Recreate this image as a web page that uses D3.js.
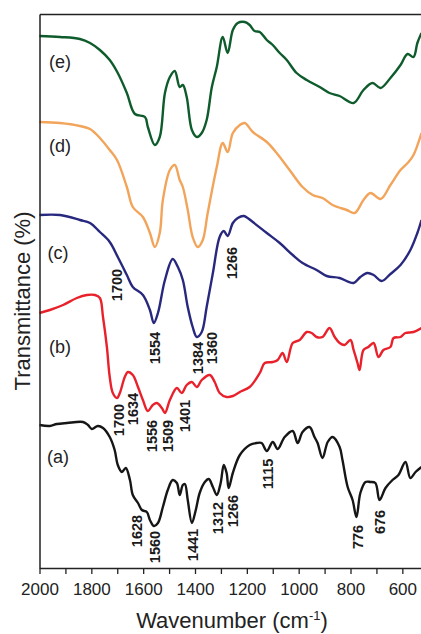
<!DOCTYPE html>
<html><head><meta charset="utf-8">
<script src="https://cdn.jsdelivr.net/npm/d3@7"></script>
<style>body{margin:0;background:#fff}svg{display:block}</style>
</head><body>
<script>
// wavenumber (cm-1) and transmittance (arbitrary offset units)
const waveE=[2000,1921,1844,1805,1767,1729,1698,1663,1632,1593,1582,1555,1536,1516,1497,1478,1459,1447,1432,1412,1393,1374,1355,1335,1316,1293,1274,1254,1235,1208,1189,1170,1150,1123,1100,1073,1046,1008,969,919,881,842,788,750,715,684,646,607,580,557,542,526];
const transE=[532,531,529,525,518,508,495,475,454,451,441,423,431,475,491,497,481,483,471,438,431,435,448,481,501,531,515,538,545,546,543,537,536,528,523,515,508,495,488,481,475,472,465,478,485,480,490,503,514,511,525,535];
const waveD=[2000,1921,1844,1805,1767,1729,1701,1663,1640,1601,1574,1555,1536,1524,1497,1478,1459,1447,1428,1409,1389,1370,1351,1316,1293,1274,1254,1227,1208,1177,1123,1085,1035,985,946,908,869,815,784,750,723,684,646,607,576,557,526];
const transD=[446,445,442,439,430,418,408,381,361,351,335,321,335,368,398,403,388,381,358,331,321,328,355,401,425,416,435,443,445,436,426,415,398,381,373,370,363,358,355,368,375,369,383,398,406,413,435];
const waveC=[2000,1921,1844,1805,1767,1729,1698,1663,1640,1601,1574,1559,1543,1516,1486,1466,1447,1428,1409,1393,1374,1355,1331,1305,1289,1274,1254,1235,1212,1177,1123,1073,1023,985,931,892,842,788,762,735,711,680,646,607,569,542,526];
const transC=[353,353,348,345,336,326,311,293,281,273,258,245,255,288,309,301,288,261,241,231,236,261,295,331,337,332,345,350,352,346,335,325,313,305,298,292,290,285,291,295,293,287,294,303,318,335,348];
const waveB=[2000,1960,1909,1856,1817,1786,1767,1755,1740,1729,1717,1701,1690,1671,1659,1640,1620,1601,1582,1563,1547,1528,1516,1497,1470,1451,1432,1412,1393,1374,1343,1324,1305,1278,1254,1227,1189,1150,1131,1100,1081,1062,1046,1023,996,969,950,931,908,881,861,842,823,800,788,773,765,750,731,711,692,673,646,634,607,588,557,526];
const transB=[255,258,263,270,273,273,270,251,221,191,175,170,175,191,196,193,181,168,157,163,165,160,155,168,180,175,183,186,181,188,193,186,175,171,172,176,181,195,205,206,208,215,206,225,228,236,235,231,231,240,231,225,223,228,218,205,198,218,221,225,211,218,221,230,231,235,236,240];
const waveA=[2000,1960,1933,1894,1832,1813,1798,1775,1755,1729,1710,1698,1682,1667,1651,1640,1620,1605,1586,1574,1559,1543,1524,1505,1486,1470,1459,1447,1439,1428,1412,1397,1382,1362,1347,1331,1316,1301,1289,1278,1270,1254,1227,1189,1162,1143,1123,1100,1081,1054,1023,1004,985,958,939,927,908,888,869,842,831,811,792,777,762,742,723,704,688,665,638,615,588,569,549,526];
const transA=[143,142,144,145,146,143,139,142,140,131,118,103,96,100,88,73,65,58,56,48,42,45,61,78,88,85,73,83,84,68,45,58,75,86,89,81,73,85,103,95,80,95,113,123,125,125,117,126,119,131,137,125,136,141,131,125,110,126,131,121,108,81,68,51,75,86,86,85,68,80,88,93,106,90,96,101];

const seriesNames=["a","b","c","d","e"];
const seriesColors=["#161616","#e8212b","#27287e","#f2a45a","#0e5b2c"];
const seriesLabelPos=[[1929,111],[1921,221],[1929,315],[1921,422],[1921,506]];

const peakText=["1700","1554","1384","1360","1266","1700","1634","1556","1509","1401","1628","1560","1441","1312","1266","1115","776","676"];
const peakWave=[1701,1555,1389,1335,1258,1694,1640,1567,1505,1439,1624,1555,1409,1312,1254,1120,773,688];
const peakTrans=[283,220,210,220,305,148,159,132,132,152,37,21,23,50,57,94,31,46];

const xTicks=[2000,1900,1800,1700,1600,1500,1400,1300,1200,1100,1000,900,800,700,600];

const W=421,H=634;
const svg=d3.select("body").append("svg").attr("width",W).attr("height",H);
const x=d3.scaleLinear().domain([2000,528]).range([39.5,421]);
const y=d3.scaleLinear().domain([0,554]).range([568,14]);

const data=[[waveA,transA],[waveB,transB],[waveC,transC],[waveD,transD],[waveE,transE]];
const line=d3.line().x(d=>x(d[0])).y(d=>y(d[1])).curve(d3.curveCatmullRom.alpha(0.5));

const g=svg.append("g");
data.forEach((s,i)=>{
  const pts=s[0].map((w,j)=>[w,s[1][j]]);
  g.append("path").datum(pts).attr("d",line).attr("fill","none")
   .attr("stroke",seriesColors[i]).attr("stroke-width",2.4).attr("stroke-linejoin","round");
});

// axes
const axColor="#222";
const xb=svg.append("g").attr("transform","translate(0,568)")
  .call(d3.axisBottom(x).tickValues(xTicks).tickSize(6).tickSizeOuter(0)
    .tickFormat(d=>d%200===0?d:""));
xb.select(".domain").attr("stroke",axColor).attr("stroke-width",1.5);
xb.selectAll(".tick line").attr("stroke",axColor).attr("stroke-width",1.3);
xb.selectAll(".tick text").attr("font-family","Liberation Sans, Arial, sans-serif")
  .attr("font-size",17).attr("fill","#222").attr("dy","1.05em");

const yl=svg.append("g").attr("transform","translate(39.5,0)")
  .call(d3.axisLeft(y).tickValues([]).tickSizeOuter(0));
yl.select(".domain").attr("stroke",axColor).attr("stroke-width",1.5);
const xt=svg.append("g").attr("transform","translate(0,14)")
  .call(d3.axisTop(x).tickValues([]).tickSizeOuter(0));
xt.select(".domain").attr("stroke",axColor).attr("stroke-width",1.5);

// titles
svg.append("text").attr("x",232).attr("y",628).attr("text-anchor","middle")
  .attr("font-family","Liberation Sans, Arial, sans-serif").attr("font-size",22).attr("fill","#222")
  .html('Wavenumber (cm<tspan dy="-8" font-size="13">-1</tspan><tspan dy="8">)</tspan>');
svg.append("text").attr("transform","translate(30,301) rotate(-90)").attr("text-anchor","middle")
  .attr("font-family","Liberation Sans, Arial, sans-serif").attr("font-size",22).attr("fill","#222")
  .text("Transmittance (%)");

// series labels
seriesNames.forEach((n,i)=>{
  svg.append("text").attr("x",x(seriesLabelPos[i][0])).attr("y",y(seriesLabelPos[i][1]))
   .attr("text-anchor","middle").attr("dominant-baseline","central")
   .attr("font-family","Liberation Sans, Arial, sans-serif").attr("font-size",18).attr("fill","#222")
   .text("("+n+")");
});

// peak labels
peakText.forEach((t,i)=>{
  svg.append("text").attr("transform",`translate(${x(peakWave[i])},${y(peakTrans[i])}) rotate(-90)`)
   .attr("text-anchor","middle").attr("dominant-baseline","central")
   .attr("font-family","Liberation Sans, Arial, sans-serif").attr("font-size",14.5)
   .attr("font-weight","bold").attr("fill","#1a1a1a").text(t);
});
</script>
</body></html>
